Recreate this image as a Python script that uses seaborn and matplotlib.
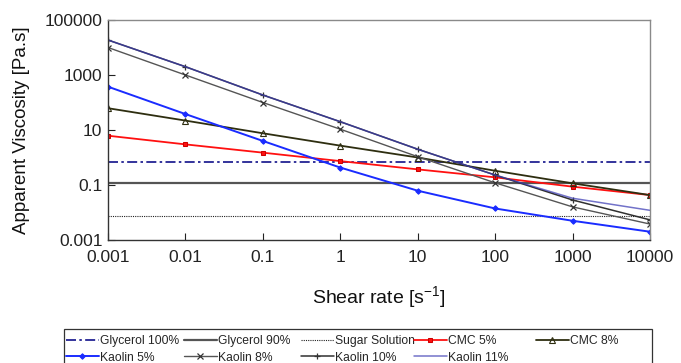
import numpy as np
import pandas as pd
import matplotlib
matplotlib.use("Agg")
import matplotlib.pyplot as plt
from matplotlib.patches import Rectangle
import seaborn as sns

# ---- data ----
shear = [0.001, 0.01, 0.1, 1, 10, 100, 1000, 10000]
shear_ends = [0.001, 10000]
glycerol100 = [0.67, 0.67]
glycerol90 = [0.12, 0.12]
sugar = [0.0074, 0.0074]
cmc5 = [6.2, 3.0, 1.5, 0.74, 0.37, 0.19, 0.087, 0.043]
cmc8 = [62, 22, 7.6, 2.7, 1.0, 0.33, 0.115, 0.043]
kaolin5 = [376, 38, 4.0, 0.43, 0.062, 0.014, 0.005, 0.002]
kaolin8 = [10000, 1000, 100, 10.7, 1.07, 0.12, 0.016, 0.0038]
kaolin10 = [18700, 2000, 187, 20, 2.0, 0.23, 0.0285, 0.0054]
kaolin11 = [18700, 2000, 187, 20, 2.0, 0.23, 0.033, 0.012]
xticks = [0.001, 0.01, 0.1, 1, 10, 100, 1000, 10000]
xticklabels = ["0.001", "0.01", "0.1", "1", "10", "100", "1000", "10000"]
yticks = [0.001, 0.1, 10, 1000, 100000]
yticklabels = ["0.001", "0.1", "10", "1000", "100000"]

sns.set_style("white")
plt.rcParams["font.family"] = ["Liberation Sans", "DejaVu Sans"]

W, H = 681, 363
fig = plt.figure(figsize=(W / 100, H / 100), dpi=100)
ax = fig.add_axes([108 / W, 1 - 240 / H, (650 - 108) / W, (240 - 20) / H])
ax.set_xscale("log")
ax.set_yscale("log")

series = [
    ("Glycerol 100%", shear_ends, glycerol100, dict(color="#10108a", linestyle=(0, (6, 2, 1.5, 2)), lw=1.2, marker=None)),
    ("Glycerol 90%", shear_ends, glycerol90, dict(color="#555555", linestyle="-", lw=1.6, marker=None)),
    ("Sugar Solution", shear_ends, sugar, dict(color="#222222", linestyle=(0, (1, 1)), lw=0.8, marker=None)),
    ("CMC 5%", shear, cmc5, dict(color="#ff1010", linestyle="-", lw=1.3, marker="s", ms=3.2, mec="#cc0000", mfc="#ff1010")),
    ("CMC 8%", shear, cmc8, dict(color="#2e2e10", linestyle="-", lw=1.3, marker="^", ms=4, mec="#2e2e10", mfc="none", mew=0.8)),
    ("Kaolin 5%", shear, kaolin5, dict(color="#1a2cff", linestyle="-", lw=1.4, marker="D", ms=2.8, mec="#1a2cff", mfc="#1a2cff")),
    ("Kaolin 8%", shear, kaolin8, dict(color="#555555", linestyle="-", lw=1.0, marker="x", ms=4, mec="#333333", mew=0.9)),
    ("Kaolin 10%", shear, kaolin10, dict(color="#303030", linestyle="-", lw=1.1, marker="+", ms=5, mec="#333333", mew=0.9)),
    ("Kaolin 11%", shear, kaolin11, dict(color="#3c3cb4", linestyle="-", lw=1.1, marker=None, alpha=0.72)),
]

handles = {}
for name, xs, ys, st in series:
    df = pd.DataFrame({"x": xs, "y": ys})
    st = dict(st)
    marker = st.pop("marker")
    kw = {}
    if marker is not None:
        kw["marker"] = marker
    sns.lineplot(data=df, x="x", y="y", ax=ax, label=name, **kw, **st)
    handles[name] = ax.get_lines()[-1]

ax.set_xlim(0.001, 10000)
ax.set_ylim(0.001, 100000)
ax.set_xticks(xticks)
ax.set_xticklabels(xticklabels)
ax.set_yticks(yticks)
ax.set_yticklabels(yticklabels)
ax.minorticks_off()
ax.tick_params(axis="both", which="major", direction="in", length=5, width=0.8,
               labelsize=12.5, colors="#222222", pad=7)
ax.tick_params(axis="y", pad=4)
ax.tick_params(axis="x", bottom=True)
ax.tick_params(axis="y", left=True)
for side in ["left", "bottom"]:
    ax.spines[side].set_color("#333333")
    ax.spines[side].set_linewidth(1.0)
for side in ["top", "right"]:
    ax.spines[side].set_color("#8a8a8a")
    ax.spines[side].set_linewidth(1.0)
    ax.spines[side].set_visible(True)

ax.set_xlabel("Shear rate [s$^{\\mathregular{-1}}$]", fontsize=14, color="#111111")
ax.set_ylabel("Apparent Viscosity [Pa.s]", fontsize=13.5, color="#111111")
ax.xaxis.set_label_coords(0.5, -0.20)
ax.yaxis.set_label_coords(-(108 - 30) / (650 - 108), 0.5)

if ax.get_legend():
    ax.get_legend().remove()

# legend: 2 rows x 5 columns on a fixed column grid, one shared frame
columns = [["Glycerol 100%", "Kaolin 5%"], ["Glycerol 90%", "Kaolin 8%"],
           ["Sugar Solution", "Kaolin 10%"], ["CMC 5%", "Kaolin 11%"], ["CMC 8%"]]
col_x = [66, 184, 301, 414, 536]
for names, cx in zip(columns, col_x):
    lg = fig.legend([handles[n] for n in names], names, loc="upper left",
                    bbox_to_anchor=(cx / W, 1 - 335 / H), frameon=False,
                    fontsize=8.7, borderaxespad=0, borderpad=0,
                    handlelength=2.7, handletextpad=0.1, labelspacing=0.38)
frame = Rectangle((64 / W, 1 - 372 / H), (652 - 64) / W, (372 - 329) / H,
                  transform=fig.transFigure, fill=False, edgecolor="#333333",
                  linewidth=0.9)
fig.patches.append(frame)

fig.savefig("out.png", dpi=100)
